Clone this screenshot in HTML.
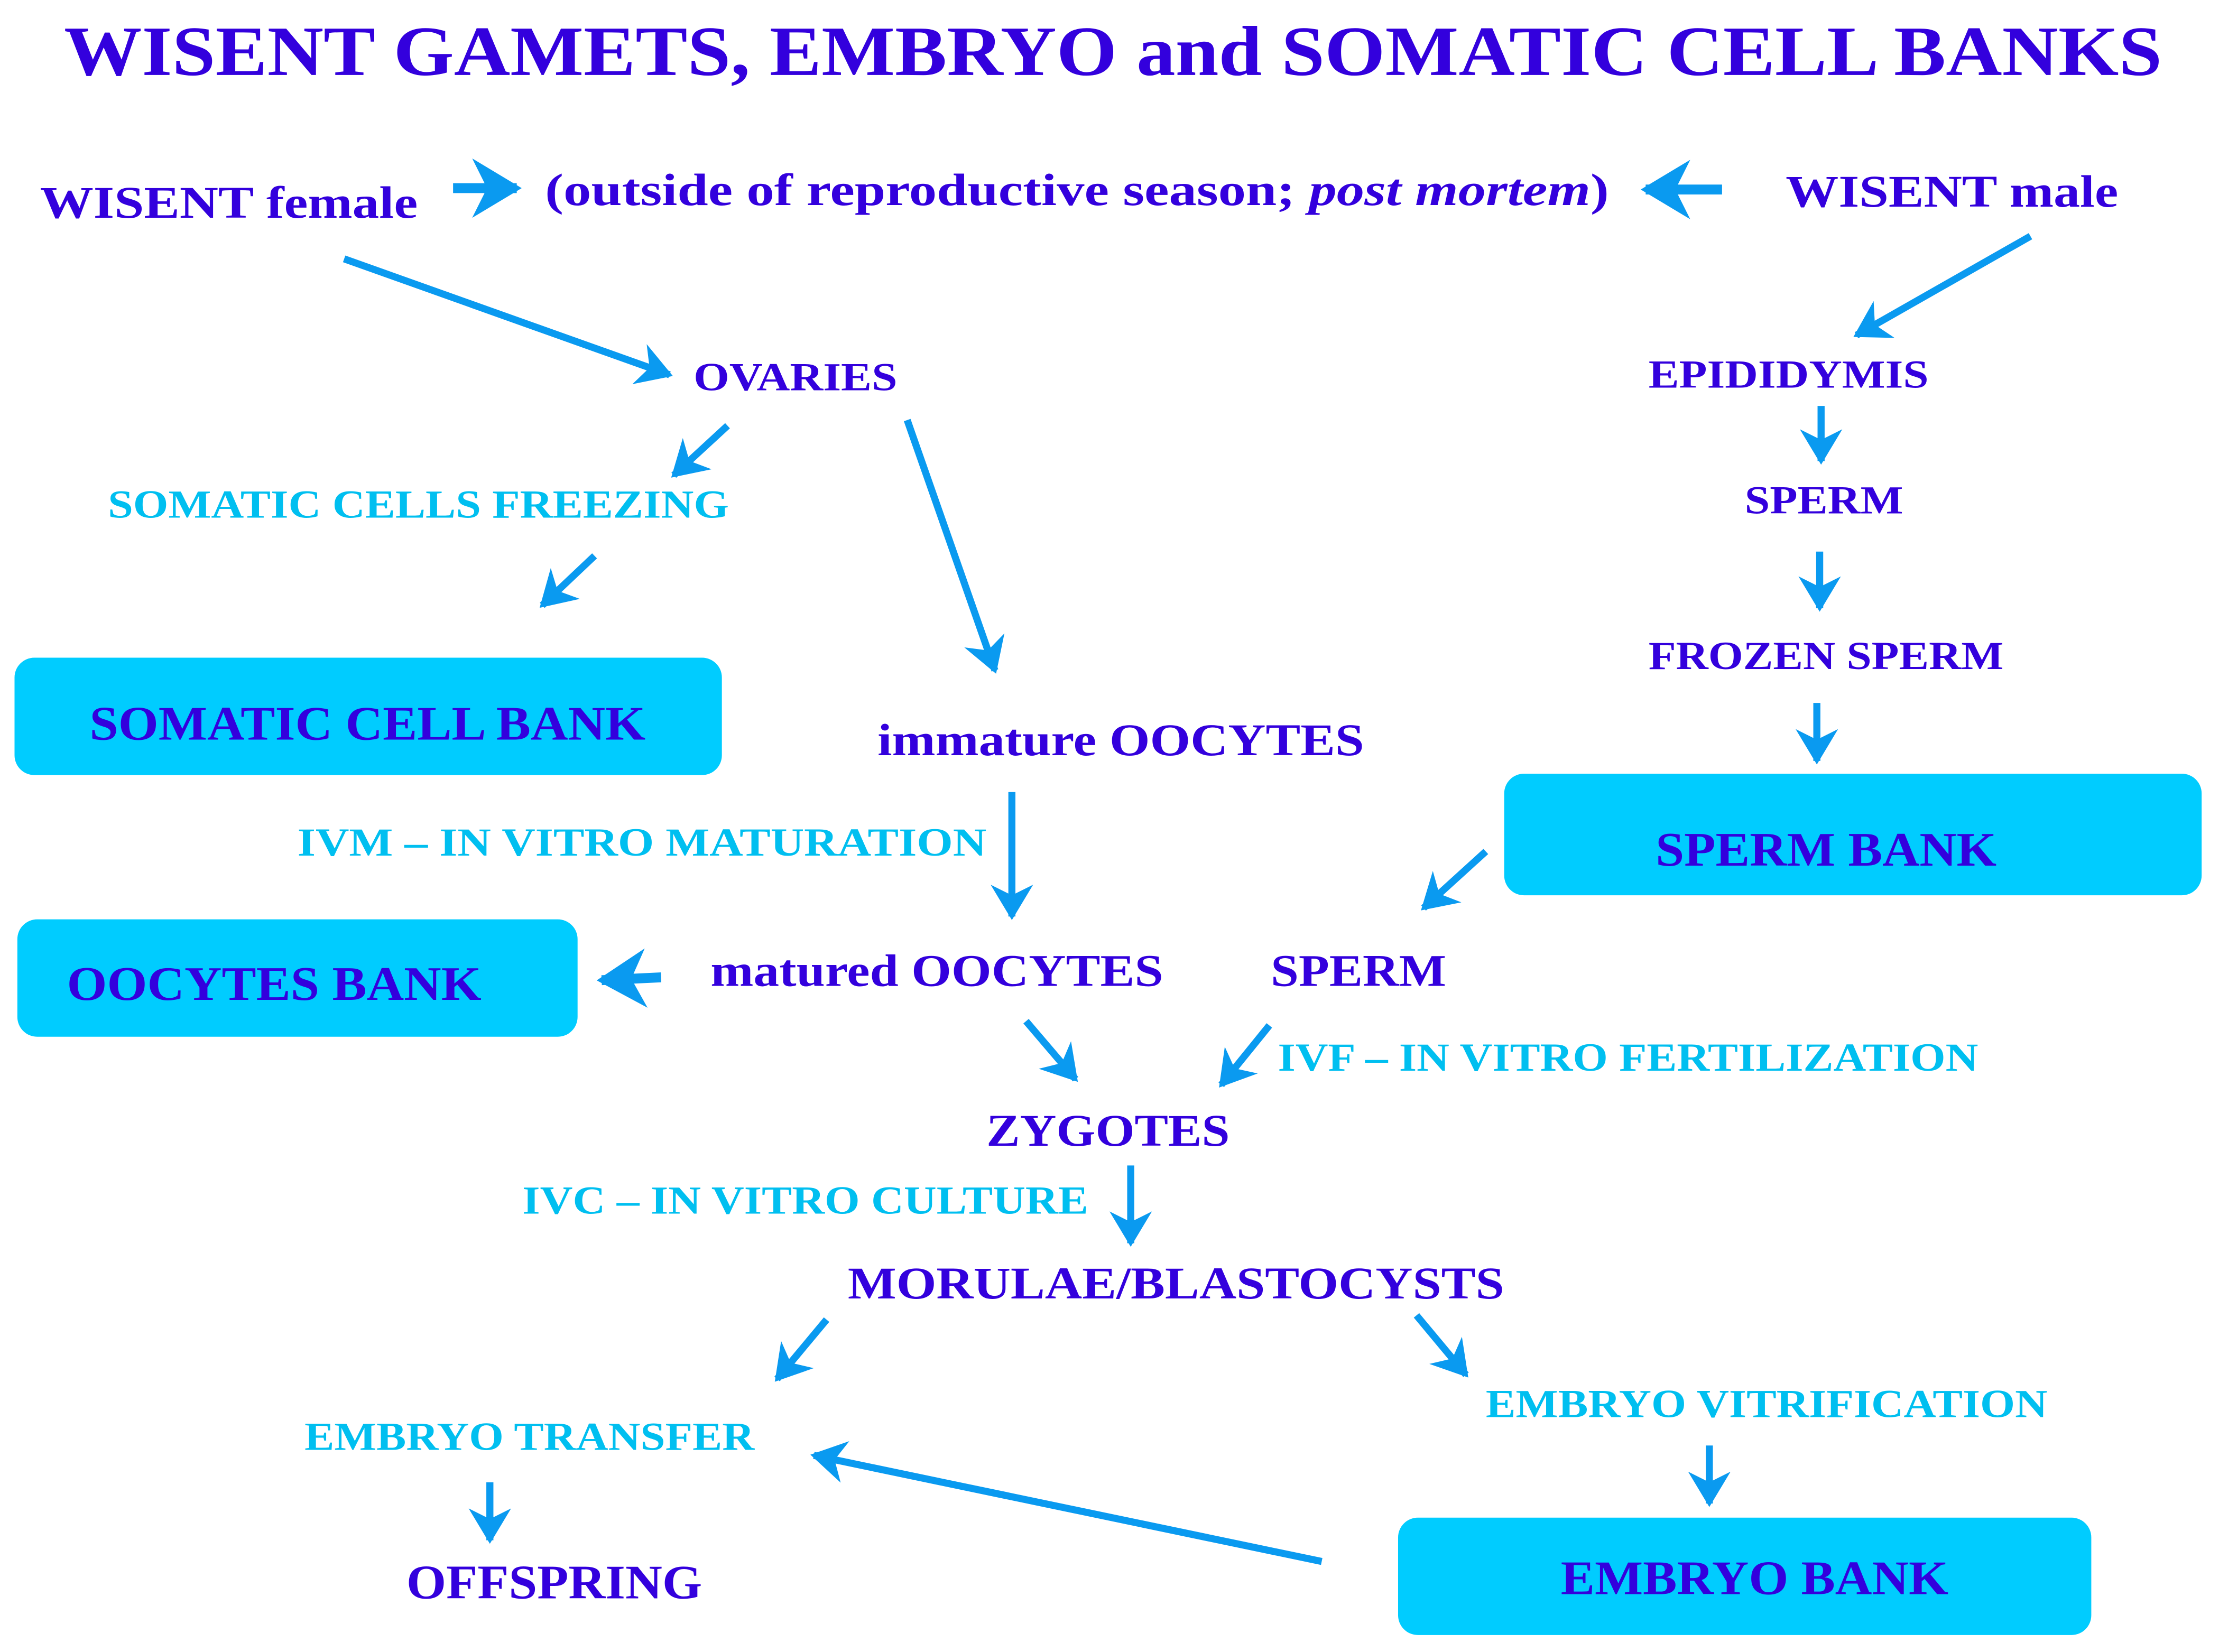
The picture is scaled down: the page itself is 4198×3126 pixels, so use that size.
<!DOCTYPE html>
<html><head><meta charset="utf-8"><style>
html,body{margin:0;padding:0;background:#fff;}
svg{display:block;}
text{font-family:"Liberation Serif",serif;font-weight:bold;}
.d{fill:#3300dd;}
.c{fill:#00bff0;}
.a{stroke:#0a9af0;stroke-width:5;fill:none;marker-end:url(#h);}
.t{stroke-width:7;}
</style></head><body>
<svg width="4198" height="3126" viewBox="0 0 1568 1168" xmlns="http://www.w3.org/2000/svg">
<defs>
<marker id="h" markerWidth="6" markerHeight="6" refX="4.5" refY="3" orient="auto" markerUnits="strokeWidth">
<path d="M0,0 L5,3 L0,6 L1.5,3 Z" fill="#0a9af0"/>
</marker>
</defs>
<rect width="1568" height="1168" fill="#fff"/>
<rect x="10" y="465" width="500" height="83" rx="14" fill="#00ccff"/>
<rect x="1063" y="547" width="493" height="86" rx="14" fill="#00ccff"/>
<rect x="12" y="650" width="396" height="83" rx="14" fill="#00ccff"/>
<rect x="988" y="1073" width="490" height="83" rx="14" fill="#00ccff"/>

<text class="d" x="45" y="53" font-size="50" textLength="1483" lengthAdjust="spacingAndGlyphs">WISENT GAMETS, EMBRYO and SOMATIC CELL BANKS</text>
<text class="d" x="28" y="154" font-size="32" textLength="267" lengthAdjust="spacingAndGlyphs">WISENT female</text>
<text class="d" x="385" y="145" font-size="32" textLength="752" lengthAdjust="spacingAndGlyphs">(outside of reproductive season; <tspan font-style="italic">post  mortem</tspan>)</text>
<text class="d" x="1262" y="146" font-size="32" textLength="235" lengthAdjust="spacingAndGlyphs">WISENT male</text>
<text class="d" x="490" y="276" font-size="28" textLength="144" lengthAdjust="spacingAndGlyphs">OVARIES</text>
<text class="d" x="1165" y="274" font-size="28" textLength="198" lengthAdjust="spacingAndGlyphs">EPIDIDYMIS</text>
<text class="c" x="76" y="366" font-size="28" textLength="439" lengthAdjust="spacingAndGlyphs">SOMATIC CELLS  FREEZING</text>
<text class="d" x="1233" y="363" font-size="28" textLength="112" lengthAdjust="spacingAndGlyphs">SPERM</text>
<text class="d" x="1165" y="473" font-size="28" textLength="251" lengthAdjust="spacingAndGlyphs">FROZEN SPERM</text>
<text class="d" x="63" y="523" font-size="34" textLength="393" lengthAdjust="spacingAndGlyphs">SOMATIC CELL BANK</text>
<text class="d" x="620" y="534" font-size="32" textLength="344" lengthAdjust="spacingAndGlyphs">immature OOCYTES</text>
<text class="c" x="210" y="605" font-size="28" textLength="487" lengthAdjust="spacingAndGlyphs">IVM – IN VITRO MATURATION</text>
<text class="d" x="1170" y="612" font-size="34" textLength="241" lengthAdjust="spacingAndGlyphs">SPERM BANK</text>
<text class="d" x="47" y="707" font-size="34" textLength="293" lengthAdjust="spacingAndGlyphs">OOCYTES BANK</text>
<text class="d" x="502" y="697" font-size="32" textLength="320" lengthAdjust="spacingAndGlyphs">matured OOCYTES</text>
<text class="d" x="898" y="697" font-size="32" textLength="124" lengthAdjust="spacingAndGlyphs">SPERM</text>
<text class="c" x="903" y="757" font-size="28" textLength="495" lengthAdjust="spacingAndGlyphs">IVF – IN VITRO FERTILIZATION</text>
<text class="d" x="697" y="810" font-size="32" textLength="172" lengthAdjust="spacingAndGlyphs">ZYGOTES</text>
<text class="c" x="369" y="858" font-size="28" textLength="400" lengthAdjust="spacingAndGlyphs">IVC – IN VITRO CULTURE</text>
<text class="d" x="599" y="918" font-size="32" textLength="464" lengthAdjust="spacingAndGlyphs">MORULAE/BLASTOCYSTS</text>
<text class="c" x="1050" y="1002" font-size="28" textLength="397" lengthAdjust="spacingAndGlyphs">EMBRYO VITRIFICATION</text>
<text class="c" x="215" y="1025" font-size="28" textLength="318" lengthAdjust="spacingAndGlyphs">EMBRYO TRANSFER</text>
<text class="d" x="287" y="1130" font-size="34" textLength="209" lengthAdjust="spacingAndGlyphs">OFFSPRING</text>
<text class="d" x="1103" y="1127" font-size="34" textLength="274" lengthAdjust="spacingAndGlyphs">EMBRYO BANK</text>

<line class="a t" x1="320" y1="133" x2="365" y2="133"/>
<line class="a t" x1="1217" y1="134" x2="1163" y2="134"/>
<line class="a" x1="243" y1="183" x2="473" y2="265"/>
<line class="a" x1="1435" y1="167" x2="1312" y2="237"/>
<line class="a" x1="514" y1="301" x2="476" y2="336"/>
<line class="a" x1="420" y1="393" x2="383" y2="428"/>
<line class="a" x1="641" y1="297" x2="703" y2="474"/>
<line class="a" x1="1287" y1="287" x2="1287" y2="326"/>
<line class="a" x1="1286" y1="390" x2="1286" y2="430"/>
<line class="a" x1="1284" y1="497" x2="1284" y2="538"/>
<line class="a" x1="715" y1="560" x2="715" y2="648"/>
<line class="a" x1="1050" y1="602" x2="1006" y2="642"/>
<line class="a t" x1="467" y1="691" x2="425" y2="693"/>
<line class="a" x1="725" y1="722" x2="760" y2="763"/>
<line class="a" x1="897" y1="725" x2="863" y2="767"/>
<line class="a" x1="799" y1="824" x2="799" y2="879"/>
<line class="a" x1="584" y1="933" x2="549" y2="975"/>
<line class="a" x1="1001" y1="930" x2="1036" y2="972"/>
<line class="a" x1="1208" y1="1022" x2="1208" y2="1063"/>
<line class="a" x1="346" y1="1048" x2="346" y2="1089"/>
<line class="a" x1="934" y1="1104" x2="575" y2="1029"/>
</svg>
</body></html>
